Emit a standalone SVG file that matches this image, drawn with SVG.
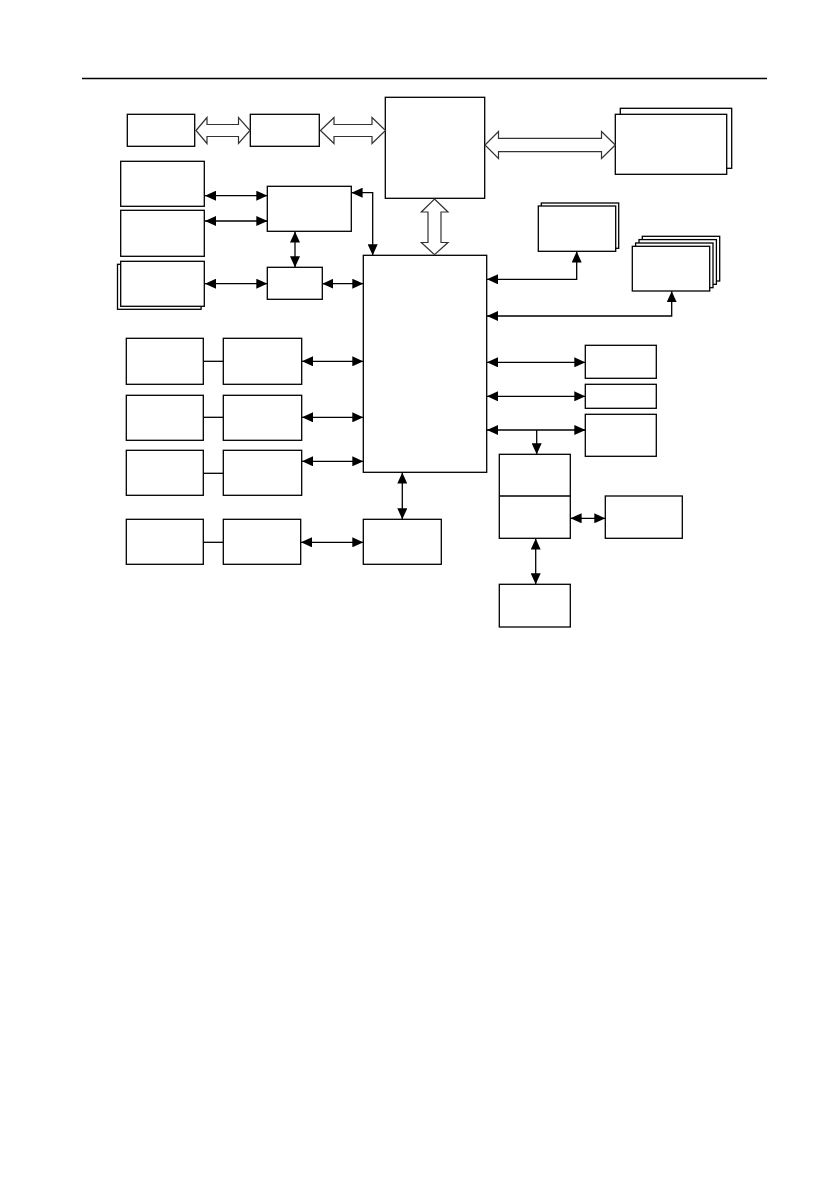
<svg xmlns="http://www.w3.org/2000/svg" width="839" height="1191" viewBox="0 0 839 1191">
<style>
.b{fill:#fff;stroke:#000;stroke-width:1.3}
.c{fill:none;stroke:#000;stroke-width:1.3}
.h{fill:#fff;stroke:#333;stroke-width:1.2;stroke-linejoin:miter}
</style>
<defs>
<marker id="ah" viewBox="0 0 11 10" refX="11" refY="5" markerWidth="11" markerHeight="10" markerUnits="userSpaceOnUse" orient="auto-start-reverse">
<path d="M0,0 L11,5 L0,10 Z" fill="#000"/>
</marker>
</defs>
<rect width="839" height="1191" fill="#fff"/>
<line x1="82" y1="78.5" x2="767" y2="78.5" stroke="#000" stroke-width="1.3"/>

<g id="nA"><rect class="b" x="127.3" y="114.3" width="67.4" height="32"/></g>
<g id="nB"><rect class="b" x="250.3" y="114.3" width="69" height="32"/></g>
<g id="nC"><rect class="b" x="385.3" y="97.3" width="99.4" height="101"/></g>
<g id="nP"><rect class="b" x="620.3" y="108.3" width="111.4" height="60"/><rect class="b" x="615.3" y="114.3" width="111.4" height="60"/></g>
<g id="nD1"><rect class="b" x="120.7" y="161.3" width="83.6" height="45"/></g>
<g id="nD2"><rect class="b" x="120.7" y="210.3" width="83.6" height="46"/></g>
<g id="nD3"><rect class="b" x="117.5" y="264.3" width="83.6" height="45"/><rect class="b" x="120.7" y="261.3" width="83.6" height="45"/></g>
<g id="nE"><rect class="b" x="267.3" y="186.3" width="84" height="45"/></g>
<g id="nF"><rect class="b" x="267.3" y="267.3" width="55" height="32"/></g>
<g id="nMain"><rect class="b" x="363.3" y="255.3" width="123.4" height="217"/></g>
<g id="nG"><rect class="b" x="363.3" y="519.3" width="78" height="45"/></g>
<g id="nR1a"><rect class="b" x="126.3" y="338.3" width="77" height="46"/></g>
<g id="nR1b"><rect class="b" x="223.3" y="338.3" width="78.4" height="46"/></g>
<g id="nR2a"><rect class="b" x="126.3" y="395.3" width="77" height="45"/></g>
<g id="nR2b"><rect class="b" x="223.3" y="395.3" width="78.4" height="45"/></g>
<g id="nR3a"><rect class="b" x="126.3" y="450.3" width="77" height="45"/></g>
<g id="nR3b"><rect class="b" x="223.3" y="450.3" width="78.4" height="45"/></g>
<g id="nR4a"><rect class="b" x="126.3" y="519.3" width="77" height="45"/></g>
<g id="nR4b"><rect class="b" x="223.3" y="519.3" width="77.4" height="45"/></g>
<g id="nH"><rect class="b" x="541.3" y="203" width="77.4" height="45.3"/><rect class="b" x="538.3" y="206" width="77.4" height="45.3"/></g>
<g id="nI"><rect class="b" x="642.3" y="236.3" width="77.4" height="44.7"/><rect class="b" x="639" y="239.6" width="77.4" height="44.7"/><rect class="b" x="635.6" y="243" width="77.4" height="44.7"/><rect class="b" x="632.3" y="246.3" width="77.4" height="44.7"/></g>
<g id="nJ"><rect class="b" x="585.3" y="345.3" width="71" height="33"/></g>
<g id="nK"><rect class="b" x="585.3" y="384.3" width="71" height="24"/></g>
<g id="nL"><rect class="b" x="585.3" y="414.3" width="71" height="42"/></g>
<g id="nM"><rect class="b" x="499.3" y="454.3" width="71" height="84"/><line class="c" x1="499.3" y1="496" x2="570.3" y2="496"/></g>
<g id="nN"><rect class="b" x="605.3" y="496" width="77" height="42.3"/></g>
<g id="nO"><rect class="b" x="499.3" y="584.3" width="71" height="42.7"/></g>

<g id="connectors">
<path class="h" d="M196,130.5 L207,117.5 L207,124.5 L238.5,124.5 L238.5,117.5 L250,130.5 L238.5,143.5 L238.5,136.5 L207,136.5 L207,143.5 Z"/>
<path class="h" d="M320.5,130.5 L334,117.5 L334,124.5 L372,124.5 L372,117.5 L385.5,130.5 L372,143.5 L372,136.5 L334,136.5 L334,143.5 Z"/>
<path class="h" d="M485,145 L498.5,131.5 L498.5,138.3 L601.5,138.3 L601.5,131.5 L615.3,145 L601.5,158.5 L601.5,151.7 L498.5,151.7 L498.5,158.5 Z"/>
<path class="h" d="M434.5,199 L448,212 L441,212 L441,242.5 L448,242.5 L434.5,254.8 L421.3,242.5 L428,242.5 L428,212 L421.3,212 Z"/>

<line class="c" x1="205" y1="195.7" x2="267.3" y2="195.7" marker-start="url(#ah)" marker-end="url(#ah)"/>
<line class="c" x1="205" y1="221" x2="267.3" y2="221" marker-start="url(#ah)" marker-end="url(#ah)"/>
<line class="c" x1="205" y1="283.7" x2="267.3" y2="283.7" marker-start="url(#ah)" marker-end="url(#ah)"/>
<line class="c" x1="295" y1="231.6" x2="295" y2="267.3" marker-start="url(#ah)" marker-end="url(#ah)"/>
<line class="c" x1="322.3" y1="283.7" x2="363.3" y2="283.7" marker-start="url(#ah)" marker-end="url(#ah)"/>
<polyline class="c" points="351.6,192.7 372.7,192.7 372.7,255.3" marker-start="url(#ah)" marker-end="url(#ah)"/>

<line class="c" x1="203.3" y1="361.3" x2="223.3" y2="361.3"/>
<line class="c" x1="203.3" y1="417.3" x2="223.3" y2="417.3"/>
<line class="c" x1="203.3" y1="473.3" x2="223.3" y2="473.3"/>
<line class="c" x1="203.3" y1="542.3" x2="223.3" y2="542.3"/>
<line class="c" x1="302" y1="361.3" x2="363.3" y2="361.3" marker-start="url(#ah)" marker-end="url(#ah)"/>
<line class="c" x1="302" y1="417.3" x2="363.3" y2="417.3" marker-start="url(#ah)" marker-end="url(#ah)"/>
<line class="c" x1="302" y1="461.3" x2="363.3" y2="461.3" marker-start="url(#ah)" marker-end="url(#ah)"/>
<line class="c" x1="301" y1="542.3" x2="363.3" y2="542.3" marker-start="url(#ah)" marker-end="url(#ah)"/>
<line class="c" x1="402.3" y1="472.6" x2="402.3" y2="519.3" marker-start="url(#ah)" marker-end="url(#ah)"/>

<polyline class="c" points="487,279.3 576.7,279.3 576.7,251.5" marker-start="url(#ah)" marker-end="url(#ah)"/>
<polyline class="c" points="487,316 671.7,316 671.7,291.2" marker-start="url(#ah)" marker-end="url(#ah)"/>
<line class="c" x1="487" y1="362.3" x2="585.3" y2="362.3" marker-start="url(#ah)" marker-end="url(#ah)"/>
<line class="c" x1="487" y1="396.3" x2="585.3" y2="396.3" marker-start="url(#ah)" marker-end="url(#ah)"/>
<line class="c" x1="487" y1="430" x2="585.3" y2="430" marker-start="url(#ah)" marker-end="url(#ah)"/>
<line class="c" x1="536.7" y1="430" x2="536.7" y2="454.3" marker-end="url(#ah)"/>
<line class="c" x1="570.6" y1="518.3" x2="605.3" y2="518.3" marker-start="url(#ah)" marker-end="url(#ah)"/>
<line class="c" x1="535.7" y1="538.6" x2="535.7" y2="584.3" marker-start="url(#ah)" marker-end="url(#ah)"/>
</g>
</svg>
